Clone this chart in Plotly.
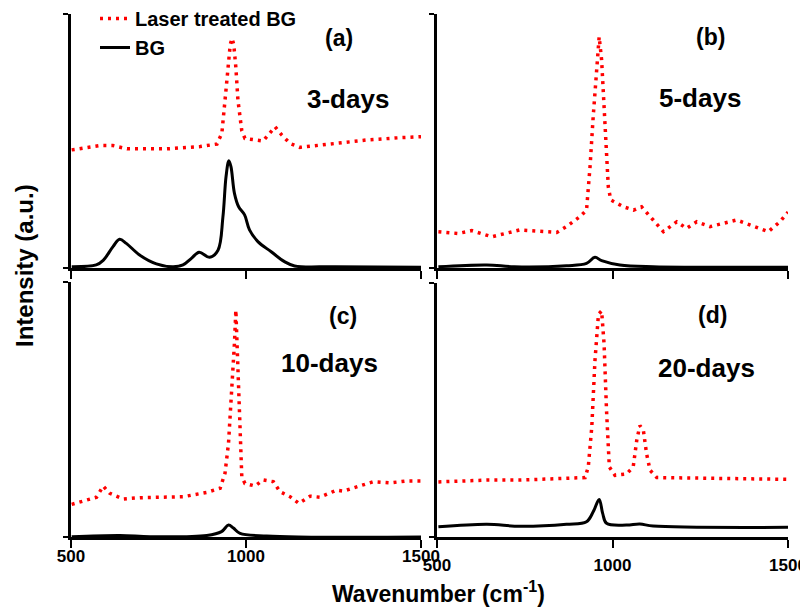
import plotly.graph_objects as go

# ---------------- data (Raman spectra, arbitrary intensity units) ----------------
x_a_laser = [502, 583, 620, 660, 774, 869, 917, 931, 940, 949, 955, 960, 965, 971, 977, 988, 997, 1049, 1069, 1083, 1102, 1126, 1154, 1249, 1345, 1440, 1500]
y_a_laser = [46.5, 48.2, 48.2, 46.9, 46.9, 47.8, 48.8, 53, 66, 79, 88, 90.4, 88, 79, 66, 54, 51, 50, 53, 55.6, 52.4, 49, 47.5, 49, 50.4, 51.3, 51.7]
x_a_bg = [502, 572, 592, 620, 639, 658, 696, 744, 792, 820, 844, 866, 896, 920, 934, 943, 951, 957, 967, 979, 996, 1010, 1034, 1072, 1110, 1139, 1254, 1500]
y_a_bg = [0.5, 1.2, 3, 8.4, 11.3, 9.7, 5.1, 1.6, 0.5, 1.2, 3.8, 6.2, 4.2, 7, 20, 36, 42.2, 39.9, 29.4, 24.1, 20.9, 15, 10.4, 6.4, 2.5, 0.8, 0.5, 0.3]

x_b_laser = [504, 560, 599, 656, 736, 841, 869, 907, 926, 936, 945, 955, 962, 969, 979, 988, 995, 1031, 1060, 1083, 1116, 1145, 1183, 1211, 1240, 1278, 1354, 1392, 1444, 1477, 1500]
y_b_laser = [14.3, 13.6, 14.7, 12.3, 15, 14, 16.3, 20.2, 22.8, 39.9, 59.6, 79.3, 91, 81.9, 55.6, 32, 26.8, 24.1, 22.8, 24.1, 18.9, 14.3, 18.2, 15.6, 18.2, 16.3, 18.9, 16.9, 14.3, 18.2, 22]
x_b_bg = [504, 642, 720, 869, 926, 950, 969, 1021, 1116, 1500]
y_b_bg = [0.5, 1.2, 0.5, 0.9, 1.8, 4.2, 2.9, 1.2, 0.5, 0.3]

x_c_laser = [502, 545, 573, 592, 611, 649, 697, 821, 888, 926, 940, 950, 959, 967, 971, 976, 981, 988, 997, 1026, 1049, 1078, 1097, 1126, 1151, 1183, 1211, 1259, 1278, 1326, 1364, 1411, 1459, 1500]
y_c_laser = [12.8, 14.5, 15.6, 20, 17.1, 14.9, 15.4, 15.8, 17.5, 19.1, 25, 36.7, 56.4, 76, 89, 69.4, 43.3, 23.6, 21, 20, 22.4, 21.7, 17.8, 15.8, 13.2, 16, 15.6, 18.4, 18, 20, 21.7, 21.2, 22, 22]
x_c_bg = [502, 640, 726, 888, 930, 950, 964, 983, 1059, 1150, 1500]
y_c_bg = [0.1, 0.6, 0.1, 0.6, 2.1, 4.7, 3.5, 1.4, 0.4, 0, 0]

x_d_laser = [504, 642, 736, 922, 931, 941, 950, 960, 969, 976, 983, 991, 1007, 1040, 1059, 1069, 1078, 1088, 1097, 1107, 1126, 1354, 1500]
y_d_laser = [21.7, 22.4, 22.4, 23.4, 27.6, 43.3, 69.4, 87.7, 89, 76, 49.8, 27.6, 24.3, 24.8, 27.6, 38, 43.9, 42, 32.8, 26.3, 23.4, 23, 22.7]
x_d_bg = [504, 642, 736, 869, 926, 945, 962, 972, 983, 1040, 1078, 1116, 1500]
y_d_bg = [4, 5, 4.2, 5, 6, 9.9, 14.8, 9.3, 5.4, 4.7, 5.1, 4.3, 3.8]

panel_labels = ["(a)", "(b)", "(c)", "(d)"]
day_labels = ["3-days", "5-days", "10-days", "20-days"]
x_ticks = [500, 1000, 1500]
series_names = ["Laser treated BG", "BG"]

# ---------------- figure ----------------
W, H = 808, 608
OFF = 8  # page body margin
FONT = "Arial, Liberation Sans, sans-serif"

def px(v):
    return (v - OFF) / W

def py(v):
    return 1 - (v - OFF) / H

doms = {
    "a": dict(x=[px(71), px(421)], y=[py(268), py(14)]),
    "b": dict(x=[px(437), px(788)], y=[py(268), py(14)]),
    "c": dict(x=[px(71), px(421)], y=[py(537), py(282)]),
    "d": dict(x=[px(437), px(788)], y=[py(537), py(283)]),
}

fig = go.Figure()

red_line = dict(color="#ff0000", width=3.5, dash="3px,5px")
black_line = dict(color="black", width=3)

data = [
    ("a", x_a_laser, y_a_laser, x_a_bg, y_a_bg),
    ("b", x_b_laser, y_b_laser, x_b_bg, y_b_bg),
    ("c", x_c_laser, y_c_laser, x_c_bg, y_c_bg),
    ("d", x_d_laser, y_d_laser, x_d_bg, y_d_bg),
]

for i, (k, xl, yl, xb, yb) in enumerate(data):
    xa = "x" if i == 0 else f"x{i+1}"
    ya = "y" if i == 0 else f"y{i+1}"
    fig.add_trace(go.Scatter(x=xl, y=yl, mode="lines", line=red_line, name=series_names[0],
                             showlegend=(i == 0), xaxis=xa, yaxis=ya))
    fig.add_trace(go.Scatter(x=xb, y=yb, mode="lines", line=black_line, name=series_names[1],
                             showlegend=(i == 0), xaxis=xa, yaxis=ya, line_shape="spline"))

layout = dict(
    width=W, height=H,
    margin=dict(l=0, r=0, t=0, b=0, autoexpand=False),
    paper_bgcolor="white", plot_bgcolor="white",
    font=dict(family=FONT, color="black", size=16, weight="bold"),
    showlegend=True,
    legend=dict(x=px(95), y=py(-1), xanchor="left", yanchor="top",
                bgcolor="rgba(0,0,0,0)", font=dict(size=20, family=FONT, weight="bold"),
                tracegroupgap=0, itemwidth=30),
)

for i, k in enumerate(["a", "b", "c", "d"]):
    bottom = k in ("c", "d")
    xname = "xaxis" if i == 0 else f"xaxis{i+1}"
    yname = "yaxis" if i == 0 else f"yaxis{i+1}"
    yref = "y" if i == 0 else f"y{i+1}"
    xref = "x" if i == 0 else f"x{i+1}"
    layout[xname] = dict(
        domain=doms[k]["x"], range=[500, 1500], anchor=yref, automargin=False,
        showline=True, linecolor="black", linewidth=2.5, mirror=False,
        ticks="outside", ticklen=8, tickwidth=2, tickcolor="black",
        tickvals=x_ticks, ticktext=[str(t) for t in x_ticks],
        showticklabels=bottom, showgrid=False, zeroline=False,
        tickfont=dict(size=17, family=FONT, weight="bold"),
        ticklabelstandoff=(-6 if k == "c" else 3),
    )
    layout[yname] = dict(
        domain=doms[k]["y"], range=[0, 100], anchor=xref, automargin=False,
        showline=True, linecolor="black", linewidth=2.5,
        ticks="outside", ticklen=5, tickwidth=2, tickcolor="black",
        tickvals=[0, 100], showticklabels=False, showgrid=False, zeroline=False,
    )

fig.update_layout(**layout)

# panel letters and day labels
letter_pos = [(339, 38), (710, 37), (343, 316), (712, 315)]
day_pos = [(348, 99), (700, 98), (329, 363), (706, 368)]
for lab, (x, y) in zip(panel_labels, letter_pos):
    fig.add_annotation(text=lab, xref="paper", yref="paper", x=px(x), y=py(y),
                       showarrow=False, xanchor="center", yanchor="middle",
                       font=dict(size=23, family=FONT, weight="bold"))
for lab, (x, y) in zip(day_labels, day_pos):
    fig.add_annotation(text=lab, xref="paper", yref="paper", x=px(x), y=py(y),
                       showarrow=False, xanchor="center", yanchor="middle",
                       font=dict(size=26, family=FONT, weight="bold"))

# axis titles
fig.add_annotation(text="Wavenumber (cm<sup>-1</sup>)", xref="paper", yref="paper",
                   x=px(438), y=py(592), showarrow=False, xanchor="center", yanchor="middle",
                   font=dict(size=23, family=FONT, weight="bold"))
fig.add_annotation(text="Intensity (a.u.)", xref="paper", yref="paper",
                   x=px(24), y=py(266), showarrow=False, xanchor="center", yanchor="middle",
                   textangle=-90, font=dict(size=24, family=FONT, weight="bold"))

fig.write_html("out.html")
